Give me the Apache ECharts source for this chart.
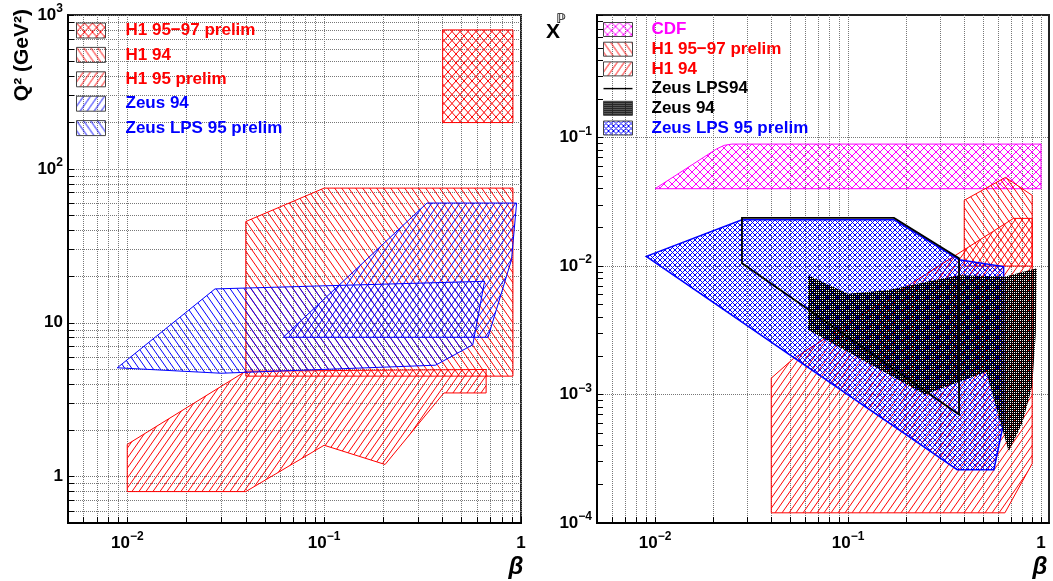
<!DOCTYPE html>
<html>
<head>
<meta charset="utf-8">
<script src="https://cdn.jsdelivr.net/npm/echarts@6/dist/echarts.min.js"></script>
<style>
html,body{margin:0;padding:0;background:#fff;}
#main{width:1053px;height:581px;}
</style>
</head>
<body>
<div id="main"></div>
<script>
// tick labels
var betaTicks=[0.01,0.1,1];
var q2Ticks=[1,10,100,1000];
var xpTicks=[1e-4,1e-3,1e-2,1e-1];

// left plot: [beta, Q2]
var h1_9597_q2=[[0.4,200],[0.4,800],[0.91,800],[0.91,200]];
var h1_94_q2=[[0.04,4.5],[0.04,45.5],[0.1,75],[0.91,75],[0.91,4.5]];
var h1_95_q2=[[0.01,1.62],[0.04,4.85],[0.665,4.97],[0.665,3.5],[0.406,3.5],[0.204,1.2],[0.1,1.6],[0.04,0.8],[0.01,0.8]];
var zeus94_q2=[[0.062,8.05],[0.333,60],[0.95,60],[0.895,25.7],[0.68,8.05]];
var zeusLps95_q2=[[0.0089,5.1],[0.0279,16.6],[0.653,18.6],[0.569,7.2],[0.368,5.3],[0.03,4.7]];

// right plot: [beta, x_P]
var cdf_xp=[[0.01,0.04],[0.0208,0.0815],[0.0228,0.087],[0.025,0.089],[1,0.089],[1,0.04]];
var h1_9597_xp=[[0.4,0.01],[0.4,0.0325],[0.654,0.049],[0.9,0.0355],[0.9,0.01]];
var h1_94_xp=[[0.04,1.2e-4],[0.04,1.34e-3],[0.052,1.9e-3],[0.72,0.0235],[0.9,0.0235],[0.9,2.9e-4],[0.65,1.2e-4]];
var zeusLps95_xp=[[0.009,0.0119],[0.0282,0.0229],[0.173,0.0229],[0.376,0.0112],[0.64,0.0099],[0.64,6e-4],[0.57,2.6e-4],[0.368,2.6e-4]];
var zeus94_xp=[[0.062,0.0085],[0.1,0.0061],[0.163,0.0065],[0.263,0.0076],[0.376,0.0085],[0.654,0.0083],[0.95,0.0096],[0.94,0.003],[0.9,1.16e-3],[0.8,6e-4],[0.68,3.6e-4],[0.6,7e-4],[0.52,1.5e-3],[0.25,1.0e-3],[0.062,3.2e-3]];
var zeusLps94_xp=[[0.0282,0.0237],[0.173,0.0237],[0.376,0.0115],[0.376,7.0e-4],[0.0282,0.0105]];

var FONT='Liberation Sans';

function hatch(color,w,h,dirs,lw){
  var c=document.createElement('canvas');c.width=w;c.height=h;
  var g=c.getContext('2d');g.strokeStyle=color;g.lineWidth=lw||1;
  dirs.forEach(function(d){
    for(var k=-1;k<=1;k++){
      g.beginPath();
      if(d=='/'){g.moveTo(k*w,h);g.lineTo(k*w+w,0);}
      else{g.moveTo(k*w,0);g.lineTo(k*w+w,h);}
      g.stroke();
    }
  });
  return {image:c,repeat:'repeat'};
}
// dense black fill, one hole per 2x2 cell
function dots(){
  var c=document.createElement('canvas');c.width=2;c.height=2;
  var g=c.getContext('2d');g.fillStyle='#000';
  g.fillRect(0,0,2,2);g.clearRect(0,0,1,1);
  return {image:c,repeat:'repeat'};
}

var RED='#ff0000',BLUE='#0000ff',MAG='#ff00ff';

// log10 positions of k*10^n inside [lo,hi]
function minors(lo,hi){
  var out=[];
  for(var n=Math.floor(Math.log10(lo));n<=Math.ceil(Math.log10(hi));n++){
    for(var k=1;k<10;k++){
      var v=k*Math.pow(10,n);
      if(v>=lo*0.999&&v<=hi*1.001) out.push(Math.log10(v));
    }
  }
  return out;
}
function lg(a){return a.map(function(v){return Math.log10(v);});}

function powLabel(v){
  var n=Math.round(v);
  if(n===0) return '{b|1}';
  if(n===1) return '{b|10}';
  return '{b|10}{s|'+(n<0?'\u2212':'')+Math.abs(n)+'}';
}
var rich={
  b:{fontSize:17,fontWeight:'bold',fontFamily:FONT,color:'#000',lineHeight:24},
  s:{fontSize:12,fontWeight:'bold',fontFamily:FONT,color:'#000',lineHeight:12,verticalAlign:'top'}
};
var gridLine={show:true,lineStyle:{color:'#777',type:'dotted',width:1}};

function xAx(gi,max){
  return {type:'value',gridIndex:gi,min:Math.log10(0.005),max:Math.log10(max),
    axisLine:{onZero:false,lineStyle:{color:'#000',width:2}},
    axisTick:{inside:true,length:6,customValues:minors(0.005,max),lineStyle:{color:'#000',width:1}},
    axisLabel:{customValues:lg(betaTicks),formatter:powLabel,rich:rich,margin:8,showMinLabel:true,showMaxLabel:true,hideOverlap:false},
    splitLine:gridLine};
}

function poly(name,pts,xi,yi,fill,stroke,lw){
  var data=pts.map(function(p){return [Math.log10(p[0]),Math.log10(p[1])];});
  return {type:'custom',name:name,xAxisIndex:xi,yAxisIndex:yi,clip:true,silent:true,
    itemStyle:{color:fill||'#000',borderColor:stroke},
    data:data,
    renderItem:function(params,api){
      if(params.context.rendered) return;
      params.context.rendered=true;
      var points=data.map(function(d){return api.coord(d);});
      return {type:'polygon',shape:{points:points},
        style:{fill:fill||'none',stroke:stroke||'none',lineWidth:lw||1}};
    }};
}

var pRedX=hatch(RED,8,9,['/','\\']);
var pRedB=hatch(RED,7,10,['\\']);
var pRedF=hatch(RED,7,10,['/']);
var pBlueF=hatch(BLUE,7,10,['/']);
var pBlueB=hatch(BLUE,7,10,['\\']);
var pMagX=hatch(MAG,8,8,['/','\\']);
var pBlueX=hatch(BLUE,5,5,['/','\\']);
var pDark=dots();

var box={borderColor:'#444',borderWidth:1};
var legText={fontSize:17,fontWeight:'bold',fontFamily:FONT};

var option={
  animation:false,
  backgroundColor:'#fff',
  grid:[
    {left:68,top:15,width:453,height:508,show:true,borderColor:'#222',borderWidth:2},
    {left:597,top:15,width:452,height:508,show:true,borderColor:'#222',borderWidth:2}
  ],
  xAxis:[xAx(0,1),xAx(1,1.1)],
  yAxis:[
    {type:'value',gridIndex:0,min:Math.log10(0.5),max:3,
      axisLine:{onZero:false,lineStyle:{color:'#000',width:2}},
      axisTick:{inside:true,length:6,customValues:minors(0.5,1000),lineStyle:{color:'#000'}},
      axisLabel:{customValues:lg(q2Ticks),formatter:powLabel,rich:rich,margin:5,showMinLabel:true,showMaxLabel:true,hideOverlap:false},
      splitLine:gridLine},
    {type:'value',gridIndex:1,min:-4,max:Math.log10(0.9),
      axisLine:{onZero:false,lineStyle:{color:'#000',width:2}},
      axisTick:{inside:true,length:6,customValues:minors(1e-4,0.9),lineStyle:{color:'#000'}},
      axisLabel:{customValues:lg(xpTicks),formatter:powLabel,rich:rich,margin:5,showMinLabel:true,showMaxLabel:true,hideOverlap:false},
      splitLine:{show:false}},
    // only the decade grid lines on the right plot
    {type:'value',gridIndex:1,position:'left',min:-4,max:Math.log10(0.9),
      axisLine:{show:false},
      axisTick:{show:false,customValues:lg(xpTicks)},
      axisLabel:{show:false},
      splitLine:gridLine}
  ],
  legend:[
    {left:71,top:17,orient:'vertical',itemWidth:29,itemHeight:15,itemGap:7.4,icon:'rect',selectedMode:false,
      textStyle:Object.assign({padding:[0,0,0,15],lineHeight:15},legText),
      data:[
        {name:'H1 95\u221297 prelim',textStyle:{color:RED},itemStyle:box},
        {name:'H1 94',textStyle:{color:RED},itemStyle:box},
        {name:'H1 95 prelim',textStyle:{color:RED},itemStyle:box},
        {name:'Zeus 94',textStyle:{color:BLUE},itemStyle:box},
        {name:'Zeus LPS 95 prelim',textStyle:{color:BLUE},itemStyle:box}
      ]},
    {left:598,top:16,orient:'vertical',itemWidth:29,itemHeight:14,itemGap:2.7,icon:'rect',selectedMode:false,
      formatter:function(n){return n.replace(/#R$/,'');},
      textStyle:Object.assign({padding:[0,0,0,14],lineHeight:14},legText),
      data:[
        {name:'CDF#R',textStyle:{color:MAG},itemStyle:box},
        {name:'H1 95\u221297 prelim#R',textStyle:{color:RED},itemStyle:box},
        {name:'H1 94#R',textStyle:{color:RED},itemStyle:box},
        {name:'Zeus LPS94#R',textStyle:{color:'#000'},icon:'path://M0,0H30V1.5H0Z',itemStyle:{color:'#000',borderWidth:0}},
        {name:'Zeus 94#R',textStyle:{color:'#000'},itemStyle:box},
        {name:'Zeus LPS 95 prelim#R',textStyle:{color:BLUE},itemStyle:box}
      ]}
  ],
  graphic:[
    {type:'text',x:22,y:9,rotation:Math.PI/2,
      style:{text:'Q\u00b2 (GeV\u00b2)',font:'bold 21px "Liberation Sans"',fill:'#000',align:'right',verticalAlign:'middle',textAlign:'right',textVerticalAlign:'middle'}},
    {type:'text',x:553,y:32,
      style:{text:'X',font:'bold 21px "Liberation Sans"',fill:'#000',align:'center',verticalAlign:'middle',textAlign:'center',textVerticalAlign:'middle'}},
    {type:'text',x:561,y:20,
      style:{text:'\u2119',font:'bold 13px "DejaVu Sans"',fill:'#000',align:'center',verticalAlign:'middle',textAlign:'center',textVerticalAlign:'middle'}},
    {type:'text',x:516,y:567,
      style:{text:'\u03b2',font:'italic bold 24px "Liberation Sans"',fill:'#000',align:'center',verticalAlign:'middle',textAlign:'center',textVerticalAlign:'middle'}},
    {type:'text',x:1040,y:567,
      style:{text:'\u03b2',font:'italic bold 24px "Liberation Sans"',fill:'#000',align:'center',verticalAlign:'middle',textAlign:'center',textVerticalAlign:'middle'}}
  ],
  series:[
    poly('H1 95\u221297 prelim',h1_9597_q2,0,0,pRedX,RED,1),
    poly('H1 94',h1_94_q2,0,0,pRedB,RED,1),
    poly('H1 95 prelim',h1_95_q2,0,0,pRedF,RED,1),
    poly('Zeus 94',zeus94_q2,0,0,pBlueF,BLUE,1),
    poly('Zeus LPS 95 prelim',zeusLps95_q2,0,0,pBlueB,BLUE,1),

    poly('CDF#R',cdf_xp,1,1,pMagX,MAG,1),
    poly('H1 95\u221297 prelim#R',h1_9597_xp,1,1,pRedB,RED,1),
    poly('H1 94#R',h1_94_xp,1,1,pRedF,RED,1),
    poly('Zeus LPS 95 prelim#R',zeusLps95_xp,1,1,pBlueX,BLUE,1.5),
    poly('Zeus 94#R',zeus94_xp,1,1,pDark,null,1),
    poly('Zeus LPS94#R',zeusLps94_xp,1,1,null,'#000',1.8)
  ]
};

var chart=echarts.init(document.getElementById('main'));
chart.setOption(option);
</script>
</body>
</html>
